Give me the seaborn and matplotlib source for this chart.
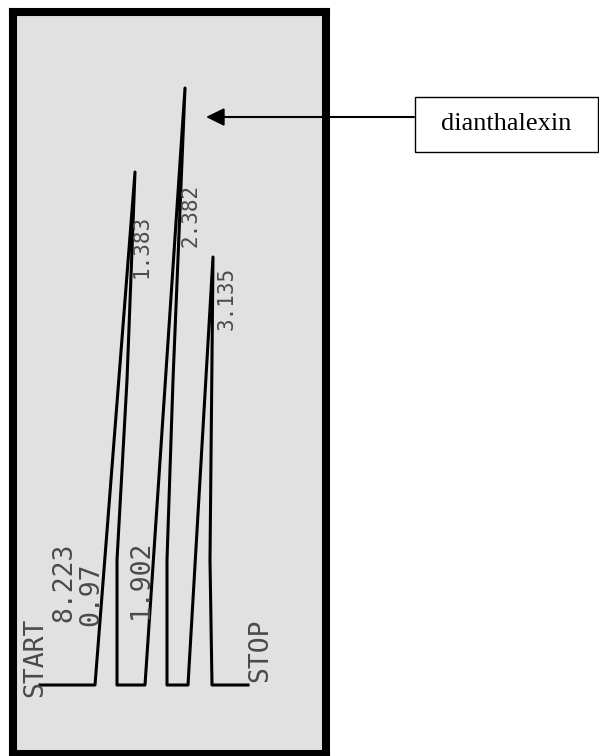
import numpy as np
import pandas as pd
import seaborn as sns
import matplotlib.pyplot as plt
from matplotlib.patches import Rectangle

# pen trace: position along the strip, deflection above baseline
trace_pos = [27, 82, 122, 114, 104, 104, 132, 172, 160, 154, 154, 175, 200, 197, 199, 235]
trace_sig = [0, 0, 513, 305, 125, 0, 0, 597, 305, 125, 0, 0, 428, 125, 0, 0]

peak_labels = ['1.383', '2.382', '3.135']
event_labels = ['START', '8.223', '0.97', '1.902', 'STOP']
compound = 'dianthalexin'

# where the printer put its numbers (data units)
peak_label_xy = [(128, 439), (177, 470), (214, 387)]
event_label_xy = [(22, 28), (51, 103), (78, 91), (128, 106), (247, 35)]

W, H = 599, 756
fig = plt.figure(figsize=(W / 100, H / 100), dpi=100)
ax = fig.add_axes([13 / W, 2.5 / H, 312.5 / W, 741.5 / H])
ax.set_facecolor('#e1e1e1')

df = pd.DataFrame({'pos': trace_pos, 'sig': trace_sig})
sns.lineplot(data=df, x='pos', y='sig', sort=False, estimator=None,
             color='black', linewidth=2.2, ax=ax)

ax.set_xlim(0, 312.5)
ax.set_ylim(-68.5, 673)
ax.set_xticks([])
ax.set_yticks([])
ax.set_xlabel('')
ax.set_ylabel('')
for sp in ax.spines.values():
    sp.set_linewidth(5.8)
    sp.set_color('black')

for lab, (x, y) in zip(peak_labels, peak_label_xy):
    ax.text(x, y, lab, rotation=90, ha='center', va='center',
            family='DejaVu Sans Mono', fontsize=15, color='#4a4a4a')
for lab, (x, y) in zip(event_labels, event_label_xy):
    ax.text(x, y, lab, rotation=90, ha='center', va='center',
            family='DejaVu Sans Mono', fontsize=19, color='#4a4a4a')

# label box and arrow to the main peak
fig.add_artist(Rectangle((415 / W, 604 / H), 183 / W, 55 / H, transform=fig.transFigure,
                         fill=False, lw=1.0, ec='black'))
fig.text(506.5 / W, 631.5 / H, compound, ha='center', va='center',
         family='Liberation Serif', fontsize=19)
ax.annotate('', xy=(193, 568), xycoords='data', xytext=(414 / W, 639 / H),
            textcoords='figure fraction', annotation_clip=False,
            arrowprops=dict(arrowstyle='-|>,head_length=0.55,head_width=0.27',
                            color='black', lw=1.5, shrinkA=0, shrinkB=0,
                            mutation_scale=20))

fig.savefig('out.png', dpi=100, facecolor='white')
